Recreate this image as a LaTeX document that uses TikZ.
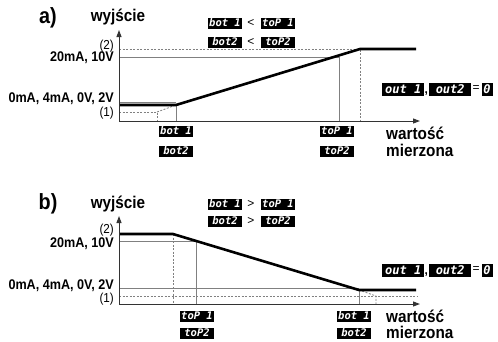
\documentclass[tikz,border=0pt]{standalone}
\usepackage{fontspec}
\setmainfont{Liberation Sans}
\newfontfamily\condfont[FakeStretch=0.9]{Liberation Sans}
\newfontfamily\segfont{DejaVu Sans Mono}
\usetikzlibrary{arrows.meta}
\begin{document}
\begin{tikzpicture}[x=1pt,y=-1pt,
  lvl/.style={anchor=east,inner sep=0pt,font=\condfont\fontsize{14}{14}\selectfont\bfseries},
  par/.style={anchor=east,inner sep=0pt,font=\condfont\fontsize{13}{13}\selectfont},
  ttl/.style={inner sep=0pt,font=\condfont\fontsize{22}{22}\selectfont\bfseries},
  axl/.style={inner sep=0pt,font=\condfont\fontsize{17}{17}\selectfont\bfseries},
  sym/.style={inner sep=0pt,font=\fontsize{12}{12}\selectfont},
  disp/.style={fill=black,text=white,inner sep=0pt,minimum width=34pt,minimum height=11pt,font=\segfont\fontsize{10.5}{10.5}\selectfont\bfseries\itshape},
  dispL/.style={disp,minimum width=42pt,minimum height=13pt,font=\segfont\fontsize{12}{12}\selectfont\bfseries\itshape},
  dispZ/.style={disp,minimum width=11pt,minimum height=13pt,font=\segfont\fontsize{12}{12}\selectfont\bfseries\itshape},
  axisline/.style={line width=1pt,draw=black!80,-{Triangle[length=7pt,width=5pt]}},
  gline/.style={line width=0.8pt,draw=black!50},
  dline/.style={line width=0.8pt,draw=black!50,dash pattern=on 2pt off 1.5pt},
  curve/.style={line width=2.6pt,draw=black,line join=miter}
]
\useasboundingbox (0,0) rectangle (498,341);
% ================= panel a =================
\node[ttl] (ta) at (48,18) {a)};
\node[axl] (wya) at (118,17) {wyjście};
\node[disp] (ab1) at (225,23) {bot 1};
\node[sym] (alt1) at (251,23) {<};
\node[disp] (at1) at (278,23) {toP 1};
\node[disp] (ab2) at (225,42) {bot2};
\node[sym] (alt2) at (251,42) {<};
\node[disp] (at2) at (278,42) {toP2};
\coordinate (aO) at (119,121);
\coordinate (aY) at (119,30);
\coordinate (aX) at (420,121);
\coordinate (a2L) at (119,49);
\coordinate (a2R) at (360,49);
\coordinate (a20L) at (119,57);
\coordinate (a20R) at (339,57);
\coordinate (a0L) at (119,102);
\coordinate (a0R) at (176,102);
\coordinate (a1L) at (119,112);
\coordinate (a1R) at (157,112);
\coordinate (aT0) at (119,105);
\coordinate (aT1) at (176,105);
\coordinate (aT2) at (360,49);
\coordinate (aT3) at (416,49);
\draw[gline] (a20L) -- (a20R) -- (a20R |- aO);
\draw[gline] (a0L) -- (a0R);
\draw[gline] (aT1) -- (aT1 |- aO);
\draw[dline] (a2L) -- (a2R) -- (a2R |- aO);
\draw[dline] (a1L) -- (a1R) -- (a1R |- aO);
\draw[dline] (a1R) -- (aT1);
\draw[curve] (aT0) -- (aT1) -- (aT2) -- (aT3);
\draw[axisline] (aO) -- (aY);
\draw[axisline] (aO) -- (aX);
\node[par] (la2) at (114,46) {(2)};
\node[lvl] (la20) at (114,58) {20mA, 10V};
\node[lvl] (la0) at (114,99) {0mA, 4mA, 0V, 2V};
\node[par] (la1) at (114,113) {(1)};
\node[disp] (abb1) at (176,131) {bot 1};
\node[disp] (abb2) at (176,151) {bot2};
\node[disp] (atb1) at (337,131) {toP 1};
\node[disp] (atb2) at (337,151) {toP2};
\node[axl,anchor=west] (awa) at (386,133) {wartość};
\node[axl,anchor=west] (ami) at (386,150) {mierzona};
\node[dispL,anchor=west] (ao1) at (382,89) {out 1};
\node[sym,anchor=south west,font=\fontsize{12}{12}\selectfont\bfseries] (acm) at (ao1.south east) {,};
\node[dispL,anchor=west] (ao2) at (429,89) {out2};
\node[sym] (aeq) at (476,89) {=};
\node[dispZ] (az) at (487,89) {0};
% ================= panel b =================
\node[ttl] (tb) at (48,204) {b)};
\node[axl] (wyb) at (118,204) {wyjście};
\node[disp] (bb1) at (225,204) {bot 1};
\node[sym] (bgt1) at (251,204) {>};
\node[disp] (bt1) at (278,204) {toP 1};
\node[disp] (bb2) at (225,221) {bot2};
\node[sym] (bgt2) at (251,221) {>};
\node[disp] (bt2) at (278,221) {toP2};
\coordinate (bO) at (119,304);
\coordinate (bY) at (119,216);
\coordinate (bX) at (420,304);
\coordinate (b20L) at (119,241);
\coordinate (b20R) at (196,241);
\coordinate (b0L) at (119,288);
\coordinate (b0R) at (359,288);
\coordinate (b1L) at (119,296);
\coordinate (b1R) at (417,296);
\coordinate (bS) at (376,296);
\coordinate (bT0) at (119,234);
\coordinate (bT1) at (173,234);
\coordinate (bT2) at (359,290);
\coordinate (bT3) at (416,290);
\draw[gline] (b20L) -- (b20R) -- (b20R |- bO);
\draw[gline] (b0L) -- (b0R);
\draw[gline] (bT2) -- (bT2 |- bO);
\draw[dline] (b1L) -- (b1R);
\draw[dline] (bT1) -- (bT1 |- bO);
\draw[dline] (bT2) -- (bS) -- (bS |- bO);
\draw[curve] (bT0) -- (bT1) -- (bT2) -- (bT3);
\draw[axisline] (bO) -- (bY);
\draw[axisline] (bO) -- (bX);
\node[par] (lb2) at (114,230) {(2)};
\node[lvl] (lb20) at (114,244) {20mA, 10V};
\node[lvl] (lb0) at (114,286) {0mA, 4mA, 0V, 2V};
\node[par] (lb1) at (114,299) {(1)};
\node[disp] (btb1) at (197,316) {toP 1};
\node[disp] (btb2) at (197,333) {toP2};
\node[disp] (bbb1) at (354,316) {bot 1};
\node[disp] (bbb2) at (354,333) {bot2};
\node[axl,anchor=west] (bwa) at (386,316) {wartość};
\node[axl,anchor=west] (bmi) at (386,332) {mierzona};
\node[dispL,anchor=west] (bo1) at (382,270) {out 1};
\node[sym,anchor=south west,font=\fontsize{12}{12}\selectfont\bfseries] (bcm) at (bo1.south east) {,};
\node[dispL,anchor=west] (bo2) at (429,270) {out2};
\node[sym] (beq) at (476,270) {=};
\node[dispZ] (bz) at (487,270) {0};
\end{tikzpicture}
\end{document}
